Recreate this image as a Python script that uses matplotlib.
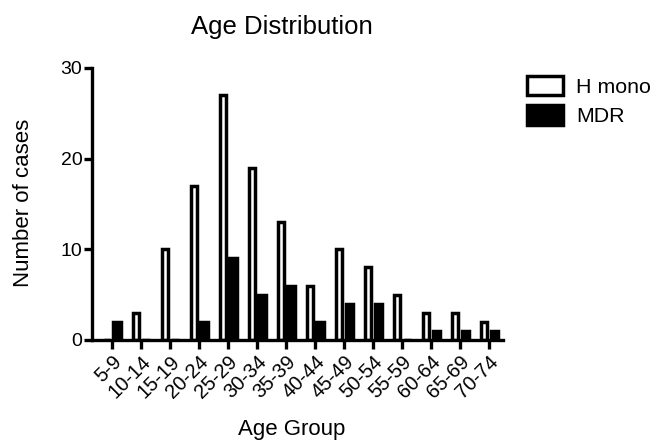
import numpy as np
import matplotlib
matplotlib.use('Agg')
import matplotlib.pyplot as plt

plt.rcParams['font.family'] = ['Liberation Sans', 'DejaVu Sans']

age_groups = ['5-9', '10-14', '15-19', '20-24', '25-29', '30-34', '35-39',
              '40-44', '45-49', '50-54', '55-59', '60-64', '65-69', '70-74']
h_mono = [0, 3, 10, 17, 27, 19, 13, 6, 10, 8, 5, 3, 3, 2]
mdr = [2, 0, 0, 2, 9, 5, 6, 2, 4, 4, 0, 1, 1, 1]

W, H = 657, 441
fig = plt.figure(figsize=(W / 100, H / 100), dpi=100)
ax = fig.add_axes([92 / W, 1 - 340 / H, (503 - 92) / W, (340 - 68) / H])

x = np.arange(len(age_groups))
lw = 2.5
ax.bar(x - 0.06, h_mono, width=-0.22, align='edge', color='white',
       edgecolor='black', linewidth=lw, label='H mono')
ax.bar(x + 0.05, mdr, width=0.27, align='edge', color='black',
       edgecolor='black', linewidth=lw, label='MDR')

ax.set_xlim(-0.69, 13.48)
ax.set_ylim(0, 30)
ax.set_yticks([0, 10, 20, 30])
ax.set_xticks(x)
ax.set_xticklabels(age_groups, rotation=45, ha='right', va='top',
                   rotation_mode='anchor')
for s in ['top', 'right']:
    ax.spines[s].set_visible(False)
for s in ['left', 'bottom']:
    ax.spines[s].set_linewidth(2.4)
ax.tick_params(axis='y', width=2.4, length=6, labelsize=14, pad=1)
ax.tick_params(axis='x', width=2.4, length=6.5, labelsize=14.5, pad=2)

fig.text(24 / W, 1 - 203 / H, 'Number of cases', fontsize=16, rotation=90,
         ha='center', va='center')
fig.text(292 / W, 1 - 430 / H, 'Age Group', fontsize=16,
         ha='center', va='center')
fig.text(282 / W, 1 - 27 / H, 'Age Distribution', fontsize=18.5,
         ha='center', va='center')

ax.legend(loc='upper left', bbox_to_anchor=(527 / W, 1 - 76 / H),
          bbox_transform=fig.transFigure, frameon=False, fontsize=15.4,
          handlelength=1.7, handleheight=1.0, handletextpad=0.6,
          labelspacing=0.4, borderpad=0, borderaxespad=0)

fig.savefig('out.png', dpi=100)
